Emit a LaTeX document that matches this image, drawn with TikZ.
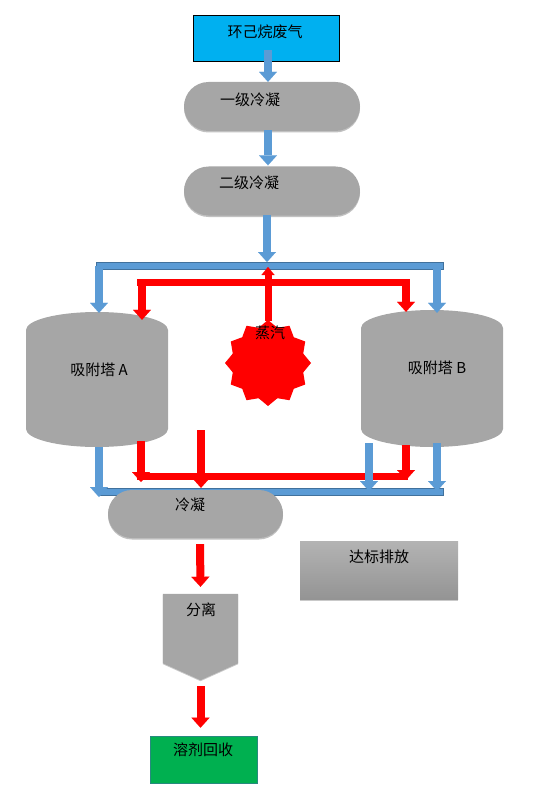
\documentclass[tikz,border=0pt]{standalone}
\usepackage{fontspec}
\newfontfamily\cjk{Noto Sans CJK SC}
\usetikzlibrary{arrows.meta,shapes.misc,shapes.geometric,shadows,calc}
\definecolor{arrowblue}{HTML}{5B9BD5}
\definecolor{bluedark}{HTML}{41719C}
\definecolor{boxgray}{HTML}{A6A6A6}
\definecolor{srcblue}{HTML}{00B0F0}
\definecolor{recgreen}{HTML}{00B050}
\definecolor{flowred}{HTML}{FF0000}
\begin{document}
\begin{tikzpicture}[x=1pt,y=1pt,
  lbl/.style={font=\cjk\fontsize{15}{18}\selectfont, inner sep=0pt},
  bluearrow/.style={draw=arrowblue, line width=8pt, -{Triangle[width=18pt,length=10pt,line width=0.01pt]}},
  redarrow/.style={draw=flowred, line width=8pt, -{Triangle[width=18pt,length=10pt,line width=0.01pt]}},
  redup/.style={draw=flowred, line width=7pt, -{Triangle[width=13pt,length=8pt,line width=0.01pt]}},
  bluebar/.style={fill=arrowblue, draw=bluedark, line width=1pt},
  redbar/.style={fill=flowred, draw=none},
  stadium/.style={rounded rectangle, fill=boxgray, draw=none, inner sep=0pt,
    minimum width=176pt, minimum height=49pt,
    drop shadow={shadow xshift=0pt, shadow yshift=-1.5pt, opacity=0.35, fill=black!70}},
  ghost/.style={draw=none, inner sep=0pt}
]
\useasboundingbox (0,0) rectangle (535,-805);

% ---- source and condensers
\node[draw=black, fill=srcblue, line width=0.8pt, inner sep=0pt,
      minimum width=146pt, minimum height=46pt] (src) at (266,-38) {};
\node[lbl] at (265,-32) {环己烷废气};

\node[stadium] (c1) at (272,-106.5) {};
\node[lbl] at (250,-100) {一级冷凝};
\node[stadium] (c2) at (272,-191) {};
\node[lbl] at (249,-183) {二级冷凝};

\draw[bluearrow] ($(src.south)+(2,11)$) -- ($(c1.north)+(-4,0)$);
\draw[bluearrow] ($(c1.south)+(-4,1)$) -- ($(c2.north)+(-4,1)$);
\coordinate (topjoin) at (267,-262);
\draw[bluearrow] ($(c2.south)+(-5,1)$) -- (topjoin);

% ---- towers
\node[ghost, minimum width=142pt, minimum height=135pt] (cylA) at (97,-379.5) {};
\node[ghost, minimum width=142pt, minimum height=137pt] (cylB) at (432,-378.5) {};
\fill[boxgray] (26,-330) arc[start angle=180,end angle=0,x radius=71,y radius=18]
   -- (168,-429) arc[start angle=0,end angle=-180,x radius=71,y radius=18] -- cycle;
\fill[boxgray] (361,-328) arc[start angle=180,end angle=0,x radius=71,y radius=18]
   -- (503,-429) arc[start angle=0,end angle=-180,x radius=71,y radius=18] -- cycle;
\node[lbl] at (99,-370) {吸附塔 A};
\node[lbl] at (437,-368) {吸附塔 B};

% ---- steam
\node[star, star points=12, star point ratio=1.18, minimum size=86pt,
      fill=flowred, draw=none, inner sep=0pt] (steam) at (268,-363) {};
\node[lbl] at (270,-333) {蒸汽};

% ---- top distribution bars
\draw[bluebar] (96,-262) rectangle (443,-269);
\draw[redbar] (137,-279) rectangle (410,-286);
\coordinate (bA) at (99,-266);
\coordinate (bB) at (437,-266);
\coordinate (rA) at (142,-282.5);
\coordinate (rB) at (406,-282.5);
\coordinate (rup) at (268,-267);
\draw[bluearrow] (bA) -- ($(bA |- cylA.north)+(0,-1)$);
\draw[bluearrow] (bB) -- ($(bB |- cylB.north)+(0,-3)$);
\draw[redarrow] (rA) -- ($(rA |- cylA.north)+(0,-8)$);
\draw[redarrow] (rB) -- ($(rB |- cylB.north)+(0,-2)$);
\draw[redup] ($(steam.north)+(0,-1)$) -- (rup);

% ---- bottom collection bars
\draw[bluebar] (100,-488) rectangle (443,-495);
\node[stadium, minimum width=175pt, minimum height=48pt] (c3) at (195.5,-514) {};
\node[lbl] at (190,-505) {冷凝};
\draw[redbar] (137,-473) rectangle (408,-480);

\coordinate (bA2) at (99,-497);
\coordinate (rA2) at (141,-482);
\coordinate (rM) at (201,-430);
\coordinate (bB1) at (369,-491);
\coordinate (rB2) at (406,-480);
\coordinate (bB2) at (437,-491);
\draw[bluearrow] (bA2 |- cylA.south) -- (bA2);
\draw[redarrow] ($(rA2 |- cylA.south)+(0,6)$) -- (rA2);
\draw[redarrow] ($(rB2 |- cylB.south)+(0,2)$) -- (rB2);
\draw[bluearrow] ($(bB1 |- cylB.south)+(0,4)$) -- (bB1);
\draw[bluearrow] ($(bB2 |- cylB.south)+(0,4)$) -- (bB2);
\draw[redarrow] (rM) -- ($(rM |- c3.north)+(0,2)$);

% ---- separation and recovery
\node[ghost, minimum width=75pt, minimum height=86pt] (sep) at (200.5,-637) {};
\fill[boxgray, drop shadow={shadow xshift=0pt, shadow yshift=-1pt, opacity=0.3, fill=black!70}]
  (sep.north west) -- (sep.north east) -- ($(sep.south east)+(0,17)$)
  -- (sep.south) -- ($(sep.south west)+(0,17)$) -- cycle;
\node[lbl] at (201,-610) {分离};

\node[draw=bluedark!60!recgreen, fill=recgreen, line width=0.6pt, inner sep=0pt,
      minimum width=107pt, minimum height=47pt] (rec) at (203.5,-759.5) {};
\node[lbl] at (203,-750) {溶剂回收};

\node[draw=none, inner sep=0pt, minimum width=158pt, minimum height=58pt,
      top color=boxgray!85!white, bottom color=black!42,
      drop shadow={shadow xshift=0pt, shadow yshift=-1.5pt, opacity=0.3, fill=black!70}] (out) at (379,-570) {};
\node[lbl] at (379,-557) {达标排放};

\draw[redarrow] ($(c3.south)+(4.5,-6)$) -- ($(sep.north)+(0,7)$);
\draw[redarrow] ($(sep.south)+(0,-6)$) -- ($(sep.south |- rec.north)+(0,8)$);
\end{tikzpicture}
\end{document}
